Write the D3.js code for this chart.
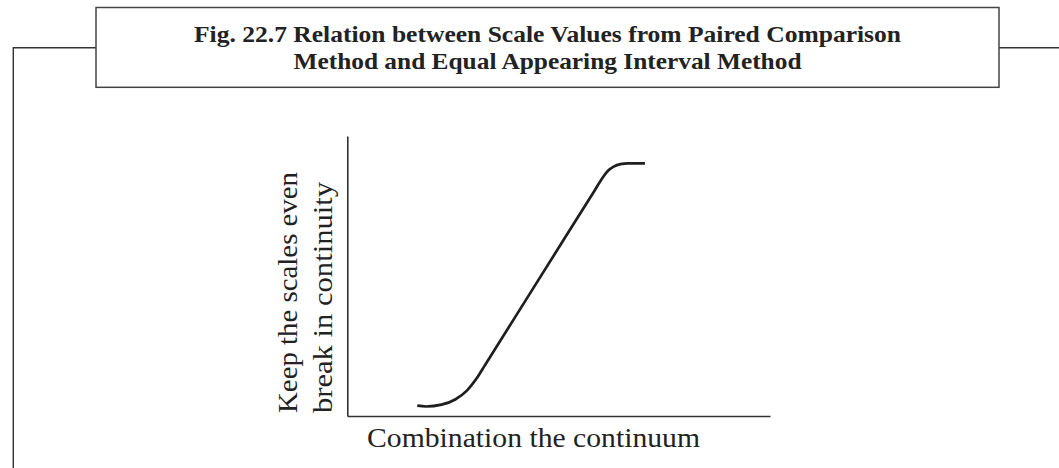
<!DOCTYPE html>
<html>
<head>
<meta charset="utf-8">
<script src="https://cdn.jsdelivr.net/npm/d3@7"></script>
<style>
  html, body { margin: 0; padding: 0; background: #fff; }
  svg { display: block; }
  text { font-family: "Liberation Serif", "DejaVu Serif", serif; fill: #222; }
</style>
</head>
<body>
<svg id="chart" width="1059" height="468"></svg>
<script>
const titleLines = [
  'Fig. 22.7  Relation between Scale Values from Paired Comparison',
  'Method and Equal Appearing Interval Method'
];
const yLabelLines = ['Keep the scales even', 'break in continuity'];
const xLabel = 'Combination the continuum';

// curve (arbitrary 0-100 units on both axes)
const curveX = [16.56, 18.62, 22.29, 25.53, 28.29, 30.61, 32.6, 45.6, 58.56, 60.56, 61.67, 63.02, 64.61, 66.41, 70.43];
const curveY = [3.68, 3.39, 4.04, 5.89, 9.07, 13.46, 18.24, 49.5, 80.65, 85.46, 87.57, 89.07, 89.96, 90.25, 90.25];

const svg = d3.select('#chart');

// outer frame: left rule + top rule broken by the title box
const frameY = 47.7;
const box = { x0: 96, x1: 999, y0: 7.5, y1: 87.3 };

svg.append('path')
  .attr('d', `M13.3,468 V${frameY} H${box.x0} M${box.x1},${frameY} H1059`)
  .attr('fill', 'none')
  .attr('stroke', '#333')
  .attr('stroke-width', 1.4);

svg.append('rect')
  .attr('x', box.x0)
  .attr('y', box.y0)
  .attr('width', box.x1 - box.x0)
  .attr('height', box.y1 - box.y0)
  .attr('fill', '#fff')
  .attr('stroke', '#444')
  .attr('stroke-width', 1.5);

const titleCx = (box.x0 + box.x1) / 2;
svg.append('text')
  .attr('x', titleCx)
  .attr('y', 41.7)
  .attr('text-anchor', 'middle')
  .attr('font-weight', 'bold')
  .attr('font-size', 23)
  .attr('textLength', 707)
  .attr('lengthAdjust', 'spacingAndGlyphs')
  .text(titleLines[0]);

svg.append('text')
  .attr('x', titleCx)
  .attr('y', 69.4)
  .attr('text-anchor', 'middle')
  .attr('font-weight', 'bold')
  .attr('font-size', 23)
  .attr('textLength', 508)
  .attr('lengthAdjust', 'spacingAndGlyphs')
  .text(titleLines[1]);

// plot
const x = d3.scaleLinear().domain([0, 100]).range([347.3, 770]);
const y = d3.scaleLinear().domain([0, 100]).range([416, 136]);

//X Axis
const gx = svg.append('g')
  .attr('transform', `translate(0,${y(0)})`)
  .call(d3.axisBottom(x).ticks(0).tickSizeOuter(0));

//Y Axis
const gy = svg.append('g')
  .attr('transform', `translate(${x(0)},0)`)
  .call(d3.axisLeft(y).ticks(0).tickSizeOuter(0));

[gx, gy].forEach((g) => {
  g.select('.domain').attr('stroke', '#333').attr('stroke-width', 1.6);
  g.selectAll('.tick').remove();
});

//Curve
const pts = curveX.map((v, i) => ({ x: v, y: curveY[i] }));
const line = d3.line()
  .x((d) => x(d.x))
  .y((d) => y(d.y))
  .curve(d3.curveMonotoneX);

svg.append('path')
  .datum(pts)
  .attr('fill', 'none')
  .attr('stroke', '#1e1e1e')
  .attr('stroke-width', 2.7)
  .attr('stroke-linecap', 'butt')
  .attr('d', line);

// axis labels
svg.append('text')
  .attr('x', 367)
  .attr('y', 446.7)
  .attr('font-size', 28)
  .attr('textLength', 333)
  .attr('lengthAdjust', 'spacingAndGlyphs')
  .text(xLabel);

const yLabelX = [297, 332];
const yLabelLen = [241, 231];
yLabelLines.forEach((t, i) => {
  svg.append('text')
    .attr('transform', `translate(${yLabelX[i]},413) rotate(-90)`)
    .attr('font-size', 28)
    .attr('textLength', yLabelLen[i])
    .attr('lengthAdjust', 'spacingAndGlyphs')
    .text(t);
});
</script>
</body>
</html>
